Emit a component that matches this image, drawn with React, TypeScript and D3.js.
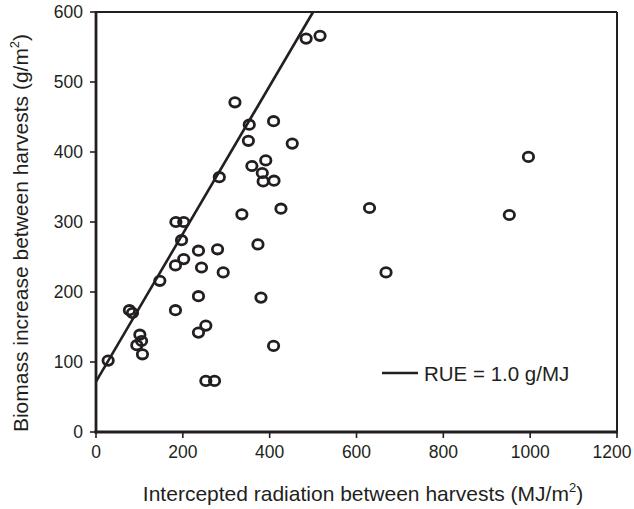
import * as d3 from "d3";

// intercepted radiation (MJ/m2) and biomass increase (g/m2) between harvests
const radiation = [
  28, 77, 84, 101, 94, 105, 107, 147, 183, 202, 183, 184, 202, 197, 236, 280,
  243, 293, 236, 253, 236, 253, 273, 380, 409, 373, 336, 426, 284, 320, 353,
  409, 351, 452, 359, 391, 383, 385, 410, 484, 516, 630, 668, 952, 996,
];
const biomass = [
  102, 174, 170, 139, 124, 130, 111, 216, 238, 247, 174, 300, 300, 274, 259, 261,
  235, 228, 194, 152, 142, 73, 73, 192, 123, 268, 311, 319, 364, 471, 439,
  444, 416, 412, 380, 388, 370, 358, 359, 562, 566, 320, 228, 310, 393,
];
// RUE line end points
const lineX = [0, 500];
const lineY = [72, 600];

const xTicks = [0, 200, 400, 600, 800, 1000, 1200];
const yTicks = [0, 100, 200, 300, 400, 500, 600];

const W = 634;
const H = 509;
const left = 96, right = 617, top = 12, bottom = 432;
const ink = "#231f20";
const font = "'Liberation Sans', Arial, sans-serif";

const App = () => {
  const x = d3.scaleLinear().domain([0, 1200]).range([left, right]);
  const y = d3.scaleLinear().domain([0, 600]).range([bottom, top]);

  const line = d3
    .line<number>()
    .x((d) => x(lineX[d]))
    .y((d) => y(lineY[d]));

  return (
    <svg
      width={W}
      height={H}
      style={{ position: "absolute", left: 0, top: 0, background: "#fff" }}
      fontFamily={font}
    >
      {/* frame */}
      <line x1={left} x2={right} y1={top} y2={top} stroke={ink} strokeWidth={2} />
      <line x1={right} x2={right} y1={top} y2={bottom} stroke={ink} strokeWidth={2} />
      <line x1={left} x2={left} y1={top - 1} y2={bottom + 1.4} stroke={ink} strokeWidth={2.8} />
      <line x1={left - 1.4} x2={right + 1} y1={bottom} y2={bottom} stroke={ink} strokeWidth={2.8} />

      {/* x axis */}
      {xTicks.map((t) => (
        <g key={"x" + t}>
          <line x1={x(t)} x2={x(t)} y1={bottom} y2={bottom + 6} stroke={ink} strokeWidth={1.6} />
          <text x={Math.min(x(t), 612)} y={458} textAnchor="middle" fontSize={17.5} fill={ink}>
            {t}
          </text>
        </g>
      ))}
      {/* y axis */}
      {yTicks.map((t) => (
        <g key={"y" + t}>
          <line x1={left - 6} x2={left} y1={y(t)} y2={y(t)} stroke={ink} strokeWidth={1.6} />
          <text x={83} y={y(t) + 6} textAnchor="end" fontSize={17.5} fill={ink}>
            {t}
          </text>
        </g>
      ))}

      {/* titles */}
      <text x={363} y={501} textAnchor="middle" fontSize={21} fill={ink}>
        Intercepted radiation between harvests (MJ/m
        <tspan dy={-9} fontSize={13}>2</tspan>
        <tspan dy={9}>)</tspan>
      </text>
      <text
        transform={`translate(28,233) rotate(-90)`}
        textAnchor="middle"
        fontSize={21}
        fill={ink}
      >
        Biomass increase between harvests (g/m
        <tspan dy={-9} fontSize={13}>2</tspan>
        <tspan dy={9}>)</tspan>
      </text>

      {/* RUE line */}
      <path d={line([0, 1]) ?? ""} fill="none" stroke={ink} strokeWidth={2.6} />

      {/* points */}
      {radiation.map((r, i) => (
        <ellipse
          key={i}
          cx={x(r)}
          cy={y(biomass[i])}
          rx={5.2}
          ry={4.7}
          fill="none"
          stroke={ink}
          strokeWidth={2.8}
        />
      ))}

      {/* legend */}
      <line x1={382} x2={418} y1={373} y2={373} stroke={ink} strokeWidth={2.6} />
      <text x={424} y={380.5} fontSize={20.5} fill={ink}>
        RUE = 1.0 g/MJ
      </text>
    </svg>
  );
};

export default App;
